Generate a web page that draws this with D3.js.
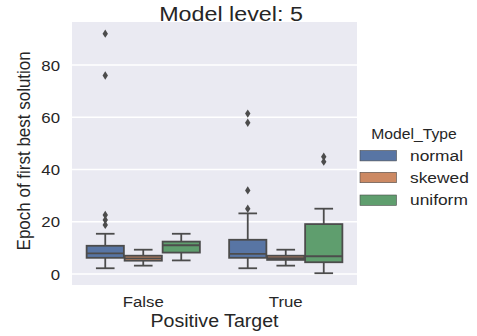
<!DOCTYPE html>
<html>
<head>
<meta charset="utf-8">
<script src="https://cdn.jsdelivr.net/npm/d3@7"></script>
<style>
  html, body { margin: 0; padding: 0; background: #ffffff; }
  svg { display: block; font-family: "Liberation Sans", Arial, sans-serif; }
</style>
</head>
<body>
<svg id="chart" width="477" height="336"></svg>
<script>
// ---- Data ----
const categories = ["False", "True"];
const modelTypes = ["normal", "skewed", "uniform"];
const colors = ["#5875a4", "#cc8963", "#5f9e6e"];
const yTicks = [0, 20, 40, 60, 80];

// box statistics per category, per model type: [whiskerLow, q1, median, q3, whiskerHigh]
const statsFalse = [
  [2.2, 6.2, 7.9, 10.8, 15.4],
  [3.2, 5.1, 6.0, 7.0, 9.3],
  [5.2, 8.2, 11.0, 12.4, 15.4]
];
const statsTrue = [
  [2.2, 6.2, 7.7, 13.1, 23.2],
  [3.2, 5.4, 6.1, 7.0, 9.3],
  [0.3, 4.5, 6.8, 19.1, 25.0]
];
const outliersFalse = [[92, 76, 22.6, 20.7, 18.8], [], []];
const outliersTrue = [[61.4, 57.9, 32, 25], [], [44.9, 43]];

const title = "Model level: 5";
const xLabel = "Positive Target";
const yLabel = "Epoch of first best solution";
const legendTitle = "Model_Type";

// ---- Layout ----
const svg = d3.select("#chart");
const plotL = 72, plotR = 357, plotT = 22, plotB = 285;
const SX = 1.12; // horizontal text stretch seen in reference
const textColor = "#262626";
const lineColor = "#4c4c4c";

const x = d3.scaleBand().domain(categories).range([plotL, plotR]).padding(0);
const hue = d3.scaleBand().domain(modelTypes).range([0, x.bandwidth() * 0.8]).padding(0);
const y = d3.scaleLinear().domain([-4.21, 96.46]).range([plotB, plotT]);

// background
svg.append("rect").attr("x", plotL).attr("y", plotT)
  .attr("width", plotR - plotL).attr("height", plotB - plotT).attr("fill", "#eaeaf2");

// grid
svg.append("g").selectAll("line").data(yTicks).join("line")
  .attr("x1", plotL).attr("x2", plotR)
  .attr("y1", d => y(d)).attr("y2", d => y(d))
  .attr("stroke", "#ffffff").attr("stroke-width", 1.3);

function stretchedText(g, txt, tx, ty, size, anchor) {
  return g.append("text")
    .attr("transform", `translate(${tx},${ty}) scale(${SX},1)`)
    .attr("text-anchor", anchor)
    .attr("font-size", size)
    .attr("fill", textColor)
    .text(txt);
}

// y tick labels
const yAxisG = svg.append("g");
yTicks.forEach(t => stretchedText(yAxisG, String(t), 60, y(t) + 5.5, 15, "end"));

// x tick labels
const xAxisG = svg.append("g");
categories.forEach(c => stretchedText(xAxisG, c, x(c) + x.bandwidth() / 2, 307, 15, "middle"));

// boxes
const allStats = { "False": statsFalse, "True": statsTrue };
const allOut = { "False": outliersFalse, "True": outliersTrue };
const boxW = hue.bandwidth() * 0.98;
const boxes = svg.append("g");
categories.forEach(c => {
  const groupStart = x(c) + x.bandwidth() * 0.1;
  modelTypes.forEach((m, i) => {
    const [wl, q1, med, q3, wh] = allStats[c][i];
    const cx = groupStart + hue(m) + hue.bandwidth() / 2;
    const g = boxes.append("g");
    const sw = 1.8;
    g.append("line").attr("x1", cx).attr("x2", cx).attr("y1", y(q3)).attr("y2", y(wh))
      .attr("stroke", lineColor).attr("stroke-width", sw);
    g.append("line").attr("x1", cx).attr("x2", cx).attr("y1", y(q1)).attr("y2", y(wl))
      .attr("stroke", lineColor).attr("stroke-width", sw);
    [wl, wh].forEach(v => g.append("line")
      .attr("x1", cx - boxW / 4).attr("x2", cx + boxW / 4)
      .attr("y1", y(v)).attr("y2", y(v))
      .attr("stroke", lineColor).attr("stroke-width", sw));
    g.append("rect").attr("x", cx - boxW / 2).attr("width", boxW)
      .attr("y", y(q3)).attr("height", y(q1) - y(q3))
      .attr("fill", colors[i]).attr("stroke", lineColor).attr("stroke-width", sw);
    g.append("line").attr("x1", cx - boxW / 2).attr("x2", cx + boxW / 2)
      .attr("y1", y(med)).attr("y2", y(med))
      .attr("stroke", lineColor).attr("stroke-width", sw);
    g.selectAll("path.fl").data(allOut[c][i]).join("path")
      .attr("class", "fl")
      .attr("transform", d => `translate(${cx},${y(d)})`)
      .attr("d", "M0,-4.2L2.7,0L0,4.2L-2.7,0Z")
      .attr("fill", lineColor);
  });
});

// title
stretchedText(svg, title, 231, 20.5, 20.8, "middle");

// x label
stretchedText(svg, xLabel, (plotL + plotR) / 2, 327, 17.5, "middle");

// y label
svg.append("text")
  .attr("transform", `translate(29.5,${(51.7 + 250) / 2}) rotate(-90) scale(1,${SX})`)
  .attr("text-anchor", "middle")
  .attr("font-size", 17)
  .attr("fill", textColor)
  .text(yLabel);

// legend
const leg = svg.append("g");
stretchedText(leg, legendTitle, 414, 139, 14, "middle");
const rowY = [155.7, 177.5, 200.2];
modelTypes.forEach((m, i) => {
  leg.append("rect").attr("x", 360).attr("y", rowY[i] - 5.2)
    .attr("width", 36.5).attr("height", 10.4)
    .attr("fill", colors[i]).attr("stroke", lineColor).attr("stroke-width", 0.6);
  stretchedText(leg, m, 410, rowY[i] + 5, 15.5, "start");
});
</script>
</body>
</html>
